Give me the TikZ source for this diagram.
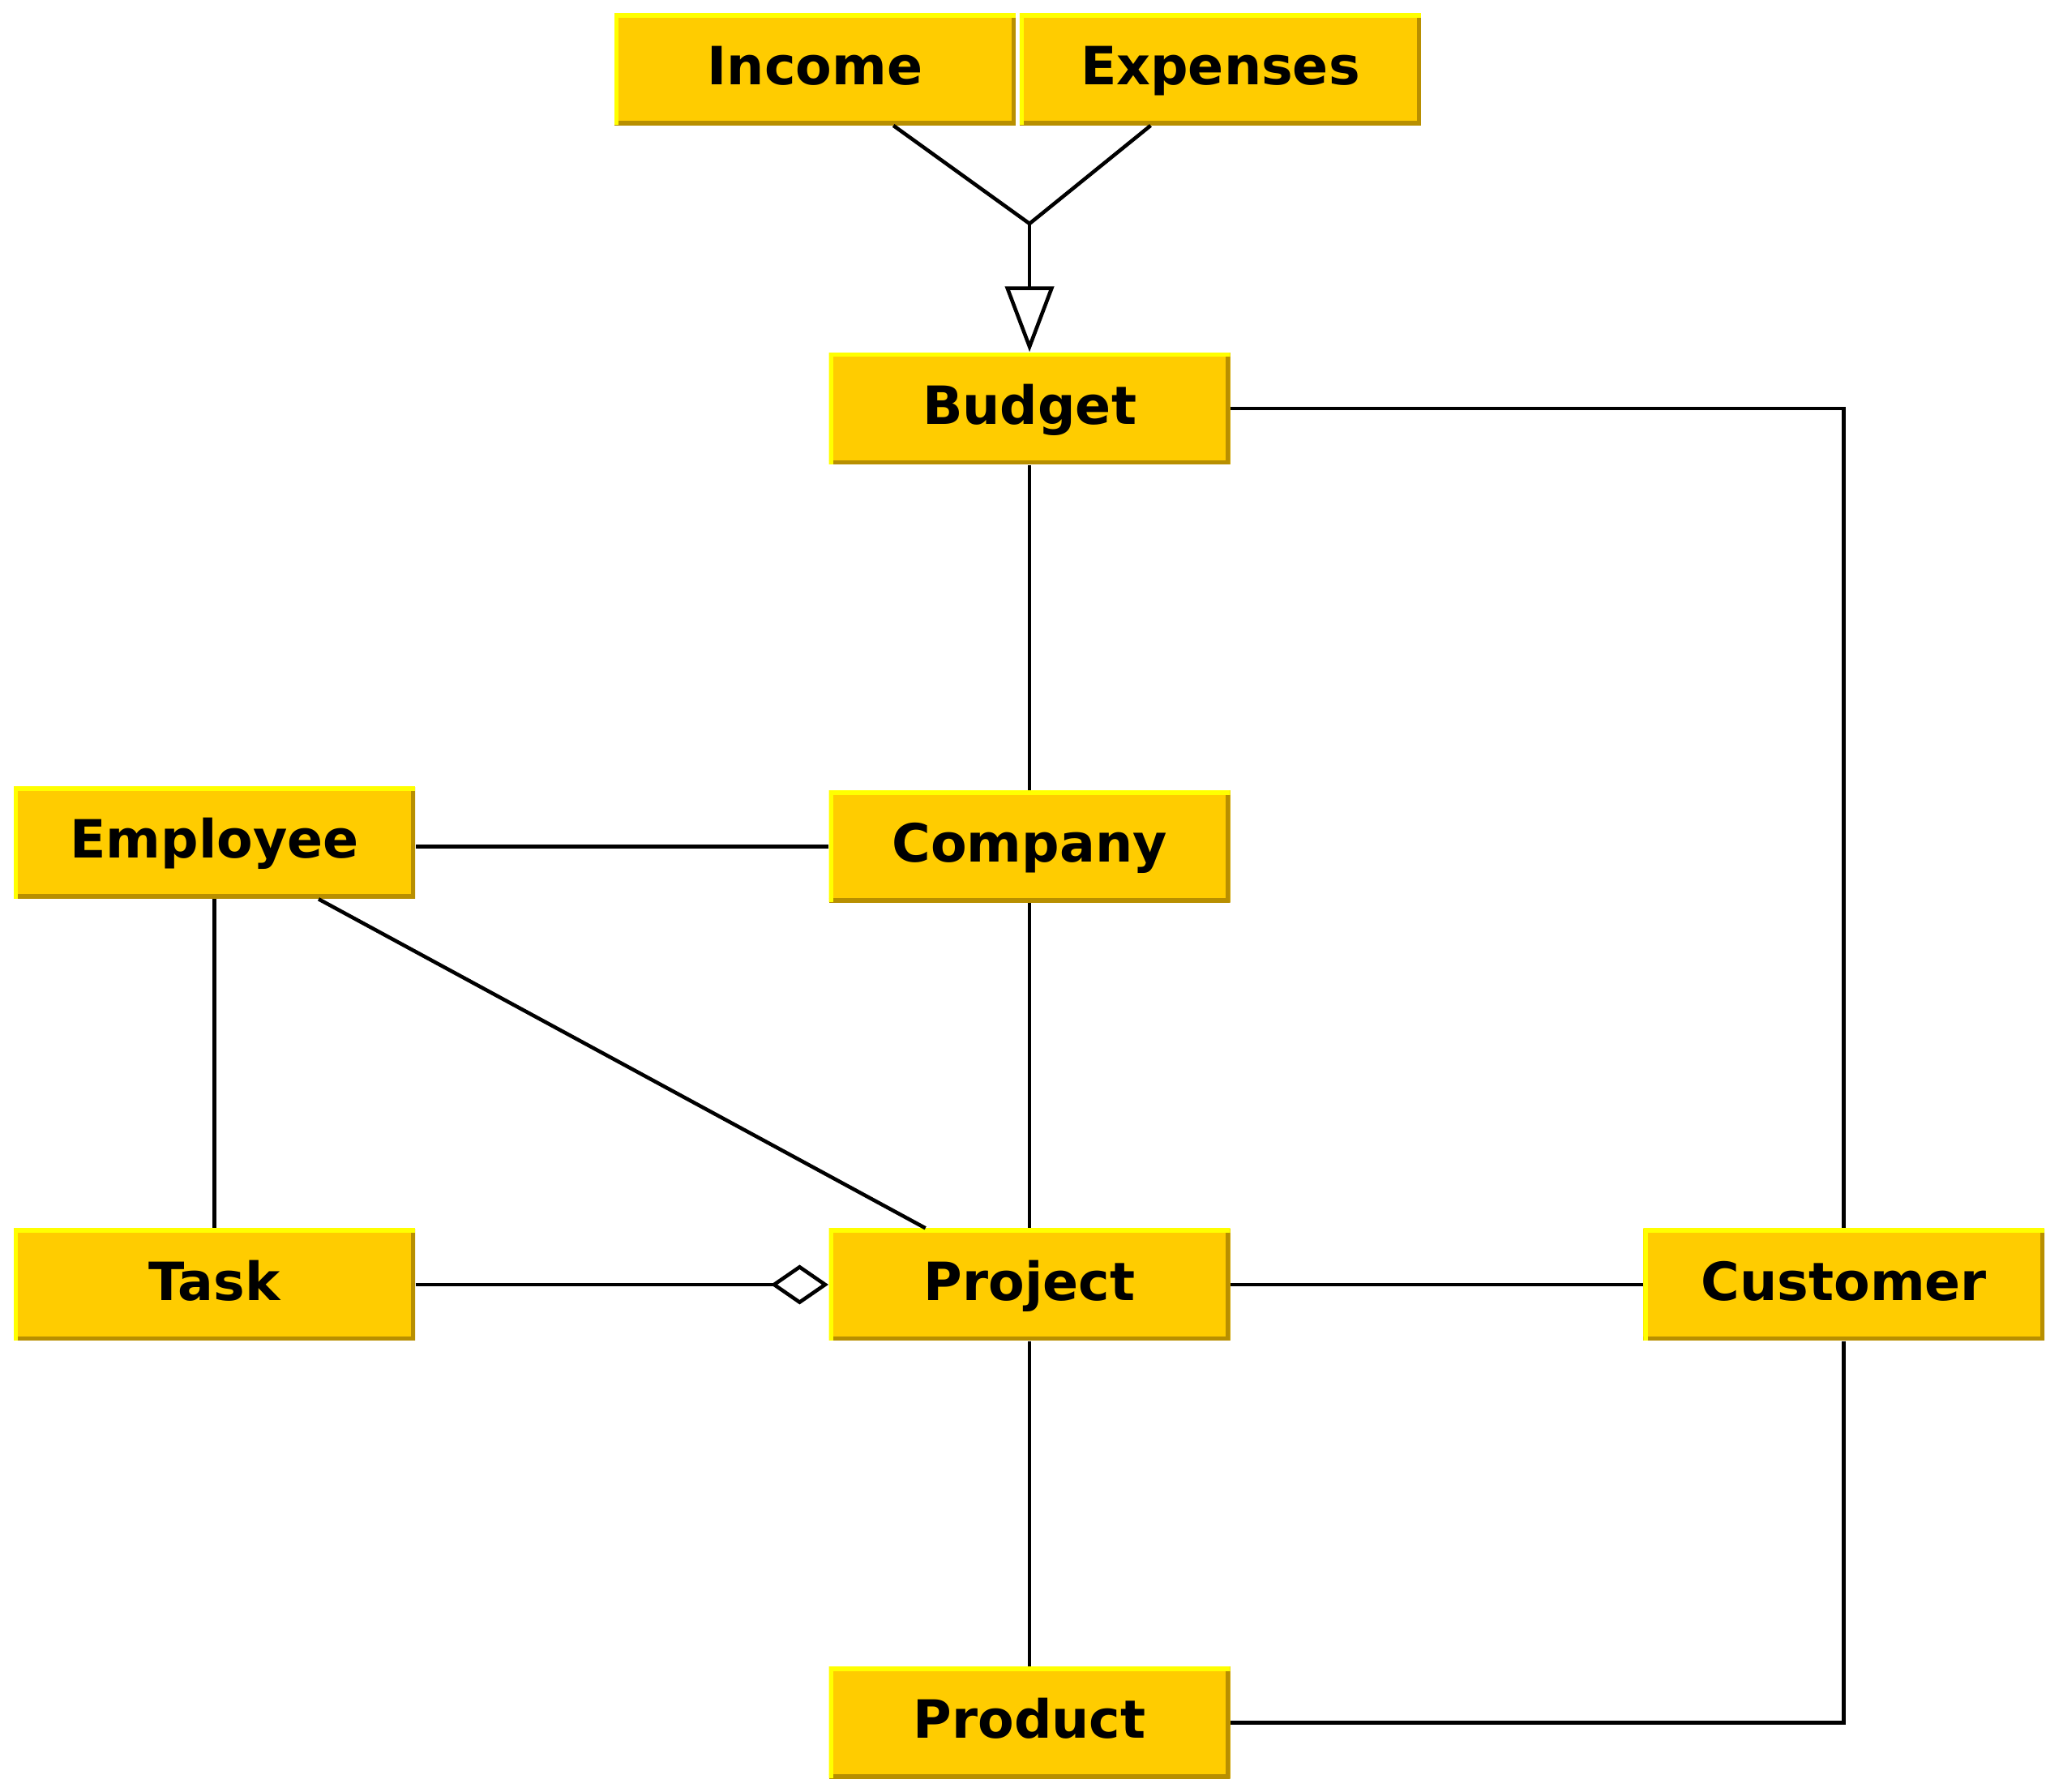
\documentclass[tikz,border=0pt]{standalone}
\usepackage{fontspec}
\setmainfont{DejaVu Sans}
\usepackage{xcolor}
\usepackage{tikz}
\usetikzlibrary{arrows.meta,positioning}

\definecolor{boxfill}{HTML}{FFCC00}
\definecolor{boxhi}{HTML}{FFFF00}
\definecolor{boxlo}{HTML}{B88F00}

\begin{document}
\begin{tikzpicture}[
  x=0.01623cm, y=-0.01623cm,
  entity/.style={fill=boxfill, minimum width=4.95cm, minimum height=1.38cm, inner sep=0pt,
    text height=13.5pt, text depth=2.5pt,
    font=\fontsize{18.5}{22}\selectfont\bfseries,
    path picture={
      \draw[boxlo, line width=3pt] (path picture bounding box.south west) -| (path picture bounding box.north east);
      \draw[boxhi, line width=3pt] (path picture bounding box.south west) |- (path picture bounding box.north east);
    }},
  link/.style={line width=1.3pt},
  inherit/.style={link, -{Triangle[open, length=0.81cm, width=0.6cm]}},
  aggregate/.style={link, -{Diamond[open, length=0.71cm, width=0.49cm]}}
]
\useasboundingbox (0,0) rectangle (1568,1362);

\node[entity] (income) at (619.5,52.5) {Income};
\node[entity] (expenses) at (927.5,52.5) {Expenses};
\node[entity] (budget) at (782.5,310.5) {Budget};
\node[entity] (employee) at (163,640.5) {Employee};
\node[entity] (company) at (782.5,643.5) {Company};
\node[entity] (task) at (163,976.5) {Task};
\node[entity] (project) at (782.5,976.5) {Project};
\node[entity] (customer) at (1401.5,976.5) {Customer};
\node[entity] (product) at (782.5,1309.5) {Product};
\coordinate (join) at (782.5,170);

\draw[link] (income) -- (join);
\draw[link] (expenses) -- (join);
\draw[inherit] (join) -- (budget);
\draw[link] (budget.east) -| (customer.north);
\draw[link] (budget) -- (company);
\draw[link] (company.west) -- (company.west -| employee.east);
\draw[link] (employee) -- (task);
\draw[link] (employee) -- (project);
\draw[link] (company) -- (project);
\draw[aggregate] (task) -- (project);
\draw[link] (project) -- (customer);
\draw[link] (project) -- (product);
\draw[link] (customer.south) |- (product.east);
\end{tikzpicture}
\end{document}
